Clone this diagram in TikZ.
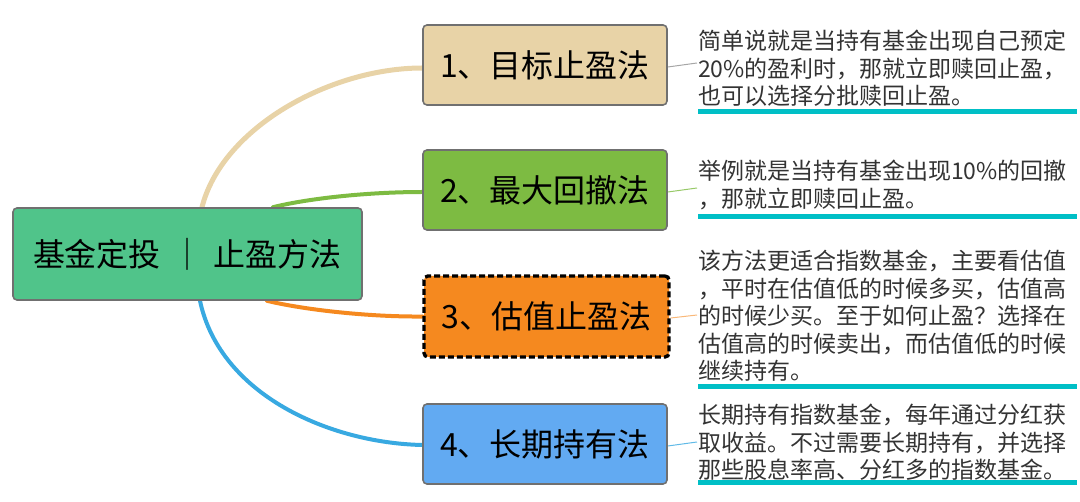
\documentclass[tikz,border=0pt]{standalone}
\usepackage{fontspec}
\setmainfont{Noto Sans CJK SC}
\usetikzlibrary{backgrounds}
\definecolor{rootfill}{HTML}{50C48A}
\definecolor{beige}{HTML}{E8D3A7}
\definecolor{grn}{HTML}{7DBB42}
\definecolor{org}{HTML}{F5891F}
\definecolor{bluebox}{HTML}{62AAF2}
\definecolor{bluecurve}{HTML}{38A9E1}
\definecolor{edgegray}{HTML}{707070}
\definecolor{cyanline}{HTML}{00BFC6}
\definecolor{txt}{HTML}{333333}
\tikzset{
  topic/.style={draw=edgegray, line width=1.6pt, rounded corners=4pt,
    minimum width=244pt, minimum height=80pt, inner sep=0pt,
    font=\fontsize{32}{36}\selectfont, text=black},
  desc/.style={anchor=north west, inner sep=0pt, align=left, text=txt,
    font=\fontsize{23}{27.5}\selectfont},
  branch/.style={line width=4pt, line cap=round},
  leaf/.style={line width=1pt},
  uline/.style={draw=cyanline, line width=5pt}
}
\begin{document}
\begin{tikzpicture}[x=1pt,y=-1pt]
\useasboundingbox (0,0) rectangle (1080,502);
\node[draw=edgegray, fill=rootfill, line width=1.6pt, rounded corners=4pt,
  minimum width=349pt, minimum height=92pt, inner sep=0pt,
  font=\fontsize{32}{36}\selectfont, text=black] (root) at (187.5,254) {基金定投\hspace{10.5pt}｜\hspace{10.5pt}止盈方法};
\node[topic, fill=beige] (t1) at (545,65) {1、目标止盈法};
\node[topic, fill=grn] (t2) at (545,190) {2、最大回撤法};
\node[topic, fill=org, draw=black, line width=3.4pt, dash pattern=on 6pt off 3pt,
  minimum width=245pt, minimum height=81pt] (t3) at (546.5,316.5) {3、估值止盈法};
\node[topic, fill=bluebox] (t4) at (545,444) {4、长期持有法};

\node[desc] (d1) at (698,30) {简单说就是当持有基金出现自己预定\\20\%的盈利时，那就立即赎回止盈，\\也可以选择分批赎回止盈。};
\node[desc] (d2) at (698,160) {举例就是当持有基金出现10\%的回撤\\，那就立即赎回止盈。};
\node[desc] (d3) at (698,250) {该方法更适合指数基金，主要看估值\\，平时在估值低的时候多买，估值高\\的时候少买。至于如何止盈？选择在\\估值高的时候卖出，而估值低的时候\\继续持有。};
\node[desc] (d4) at (698,404) {长期持有指数基金，每年通过分红获\\取收益。不过需要长期持有，并选择\\那些股息率高、分红多的指数基金。};

\coordinate (u1a) at (698,112); \coordinate (u1b) at (1077,112);
\coordinate (u2a) at (698,217); \coordinate (u2b) at (1077,217);
\coordinate (u3a) at (698,387); \coordinate (u3b) at (1077,387);
\coordinate (u4a) at (698,483); \coordinate (u4b) at (1077,483);
\draw[uline] (u1a) -- (u1b);
\draw[uline] (u2a) -- (u2b);
\draw[uline] (u3a) -- (u3b);
\draw[uline] (u4a) -- (u4b);

\coordinate (l1) at (697,63);
\coordinate (l2) at (697,188);
\coordinate (l3) at (697,315);
\coordinate (l4) at (697,442);

\begin{pgfonlayer}{background}
\draw[branch, draw=beige, line width=5pt] ([xshift=14.5pt]root.north) .. controls (222,128) and (330,68) .. ([yshift=-3pt]t1.west);
\draw[branch, draw=grn] ([xshift=85.5pt]root.north) .. controls (310,198) and (370,192) .. ([yshift=-2pt]t2.west);
\draw[branch, draw=org] ([xshift=79.5pt]root.south) .. controls (305,310) and (370,317) .. (t3.west);
\draw[branch, draw=bluecurve] ([xshift=12.5pt]root.south) .. controls (220,395) and (330,443) .. ([yshift=-1pt]t4.west);
\draw[leaf, draw=gray!70] ([yshift=-2pt]t1.east) -- (l1);
\draw[leaf, draw=grn!80] ([yshift=-2pt]t2.east) -- (l2);
\draw[leaf, draw=org!60] ([yshift=-1.5pt]t3.east) -- (l3);
\draw[leaf, draw=bluecurve!80] ([yshift=-2pt]t4.east) -- (l4);
\end{pgfonlayer}
\end{tikzpicture}
\end{document}
